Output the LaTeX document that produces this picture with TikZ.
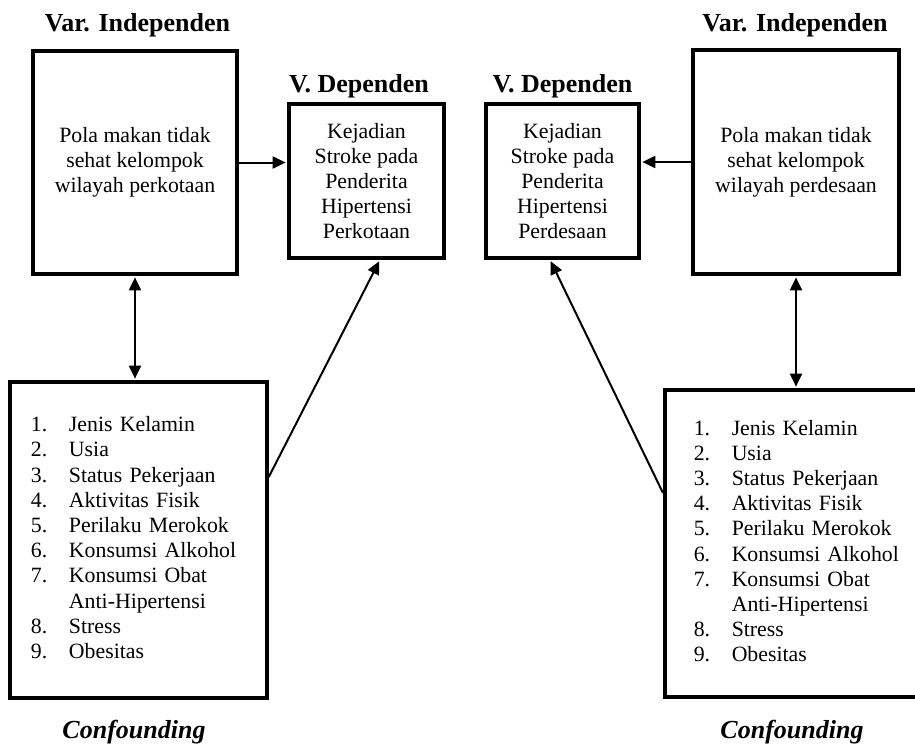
\documentclass[tikz,border=0pt]{standalone}
\usepackage{fontspec}
\setmainfont{Liberation Serif}
\usetikzlibrary{arrows.meta,positioning}
\newcommand{\daftarfaktor}{%
	\begin{tabular}{@{}p{19pt}@{}l@{}}
	1. & Jenis Kelamin\\
	2. & Usia\\
	3. & Status Pekerjaan\\
	4. & Aktivitas Fisik\\
	5. & Perilaku Merokok\\
	6. & Konsumsi Alkohol\\
	7. & Konsumsi Obat\\
	   & Anti-Hipertensi\\
	8. & Stress\\
	9. & Obesitas
	\end{tabular}}
\begin{document}
\begin{tikzpicture}[x=.5pt,y=-.5pt,
	kotak/.style={draw,line width=1.75pt,inner sep=0pt,align=center,font=\fontsize{10.9}{12.6}\selectfont},
	daftar/.style={kotak,align=left,minimum height=#1},
	judul/.style={inner sep=0pt,anchor=base,font=\fontsize{13}{15}\selectfont\bfseries},
	panah/.style={line width=1pt,-{Triangle[length=6.5pt,width=6pt]},shorten >=.8pt},
	duapanah/.style={line width=1pt,{Triangle[length=6.5pt,width=6pt]}-{Triangle[length=6.5pt,width=6pt]},shorten >=.8pt,shorten <=.8pt}]
	\useasboundingbox (0,0) rectangle (915,744);
	\clip (0,0) rectangle (915,744);
	% kotak perkotaan
	\node[kotak,minimum width=102pt,minimum height=111.5pt] (indL) at (135,162.5) {Pola makan tidak\\sehat kelompok\\wilayah perkotaan};
	\node[kotak,minimum width=77.5pt,minimum height=77pt] (depL) at (366.5,181) {Kejadian\\Stroke pada\\Penderita\\Hipertensi\\Perkotaan};
	\node[daftar=158pt,text width=107.5pt,inner xsep=10.5pt] (confL) at (138.5,540) {\daftarfaktor};
	% kotak perdesaan
	\node[kotak,minimum width=103pt,minimum height=112pt] (indR) at (796,162) {Pola makan tidak\\sehat kelompok\\wilayah perdesaan};
	\node[kotak,minimum width=76.5pt,minimum height=77pt] (depR) at (562.5,181) {Kejadian\\Stroke pada\\Penderita\\Hipertensi\\Perdesaan};
	\node[daftar=153.5pt,text width=114pt,inner xsep=14.5pt,anchor=west] (confR) at (663,543.5) {\daftarfaktor};
	% judul
	\node[judul] (tIndL) at (137.5,32) {Var. Independen};
	\node[judul] (tDepL) at (359,92) {V. Dependen};
	\node[judul] (tDepR) at (562.5,92) {V. Dependen};
	\node[judul] (tIndR) at (795,32) {Var. Independen};
	\node[judul,font=\fontsize{13}{15}\selectfont\bfseries\itshape] (tConfL) at (134,738) {Confounding};
	\node[judul,font=\fontsize{13}{15}\selectfont\bfseries\itshape] (tConfR) at (792,738) {Confounding};
	% panah
	\draw[panah] (indL.east) -- (indL.east -| depL.west);
	\draw[panah] (indR.west) -- (indR.west -| depR.east);
	\draw[duapanah] (indL.south) -- (indL.south |- confL.north);
	\draw[duapanah] (indR.south) -- (indR.south |- confR.north);
	\draw[panah] ([yshift=31.5pt]confL.east) -- ([xshift=6.75pt]depL.south);
	\draw[panah] ([yshift=25.25pt]confR.west) -- ([xshift=-6.25pt]depR.south);
\end{tikzpicture}
\end{document}
